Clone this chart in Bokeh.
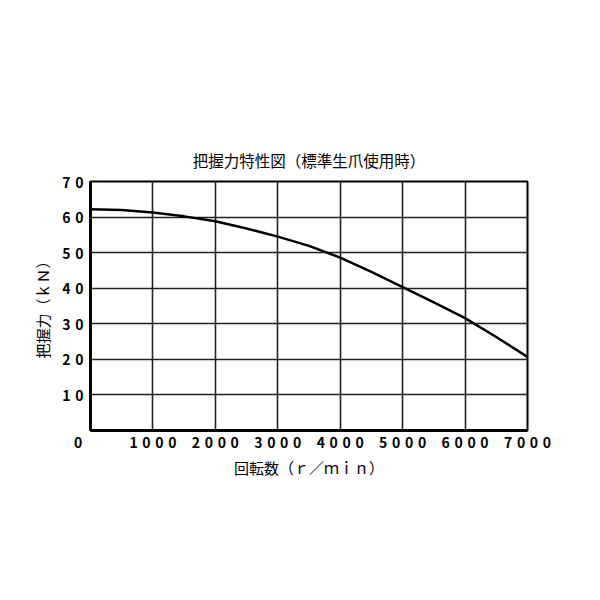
from bokeh.plotting import figure
from bokeh.models import Range1d, FixedTicker, Title
from bokeh.embed import file_html
from bokeh.resources import INLINE

rpm = [0, 500, 1000, 1500, 2000, 2500, 3000, 3500, 4000, 4500, 5000, 5500, 6000, 6500, 7000]
force = [62.2, 62.0, 61.3, 60.2, 58.8, 56.8, 54.5, 51.9, 48.6, 44.6, 40.3, 36.0, 31.6, 26.3, 20.7]

SP = "\u2004"   # non-collapsing spacing between digits
FS = "\u2007"   # figure space, used to push the shared origin "0" left
x_ticks = [0, 1000, 2000, 3000, 4000, 5000, 6000, 7000]
x_tick_labels = ["0" + FS * 3] + [SP.join(str(v)) for v in x_ticks[1:]]
y_ticks = [0, 10, 20, 30, 40, 50, 60, 70]
y_tick_labels = [""] + [SP.join(str(v)) for v in y_ticks[1:]]

title_text = "把握力特性図（標準生爪使用時）"
x_label = "回転数（ｒ／ｍｉｎ）"
y_label = "把握力（ｋＮ）"

FONT = "Noto Sans CJK JP"

p = figure(width=584, height=584, output_backend="svg", toolbar_location=None,
           x_range=Range1d(0, 7000), y_range=Range1d(0, 70),
           min_border_left=90, min_border_right=57, min_border_top=181, min_border_bottom=154)
p.toolbar.logo = None

p.line(rpm, force, line_color="black", line_width=2.5)

for ax in (p.xaxis[0], p.yaxis[0]):
    ax.axis_line_width = 3
    ax.axis_line_color = "black"
    ax.major_tick_line_color = None
    ax.minor_tick_line_color = None
    ax.major_label_text_font = FONT
    ax.major_label_text_font_size = "14px"
    ax.major_label_text_font_style = "bold"
    ax.major_label_text_color = "black"
    ax.axis_label_text_font = FONT
    ax.axis_label_text_font_size = "15px"
    ax.axis_label_text_font_style = "normal"
    ax.axis_label_text_color = "black"

p.xaxis[0].ticker = FixedTicker(ticks=x_ticks)
p.xaxis[0].major_label_overrides = dict(zip(x_ticks, x_tick_labels))
p.yaxis[0].ticker = FixedTicker(ticks=y_ticks)
p.yaxis[0].major_label_overrides = dict(zip(y_ticks, y_tick_labels))
p.xaxis[0].axis_label = x_label
p.yaxis[0].axis_label = y_label
p.xaxis[0].major_label_standoff = -5
p.yaxis[0].major_label_standoff = 1
p.xaxis[0].axis_label_standoff = 2
p.yaxis[0].axis_label_standoff = 6

p.xgrid.grid_line_color = "#222222"
p.ygrid.grid_line_color = "#222222"
p.xgrid.grid_line_width = 1.6
p.ygrid.grid_line_width = 1.6

p.outline_line_color = "black"
p.outline_line_width = 2
p.outline_line_alpha = 1
p.background_fill_color = "white"
p.border_fill_color = "white"

p.title = Title(text=title_text, align="center", text_font=FONT, text_font_size="15.5px",
                text_font_style="normal", text_color="black", standoff=22)

open("out.html", "w").write(file_html(p, INLINE))
